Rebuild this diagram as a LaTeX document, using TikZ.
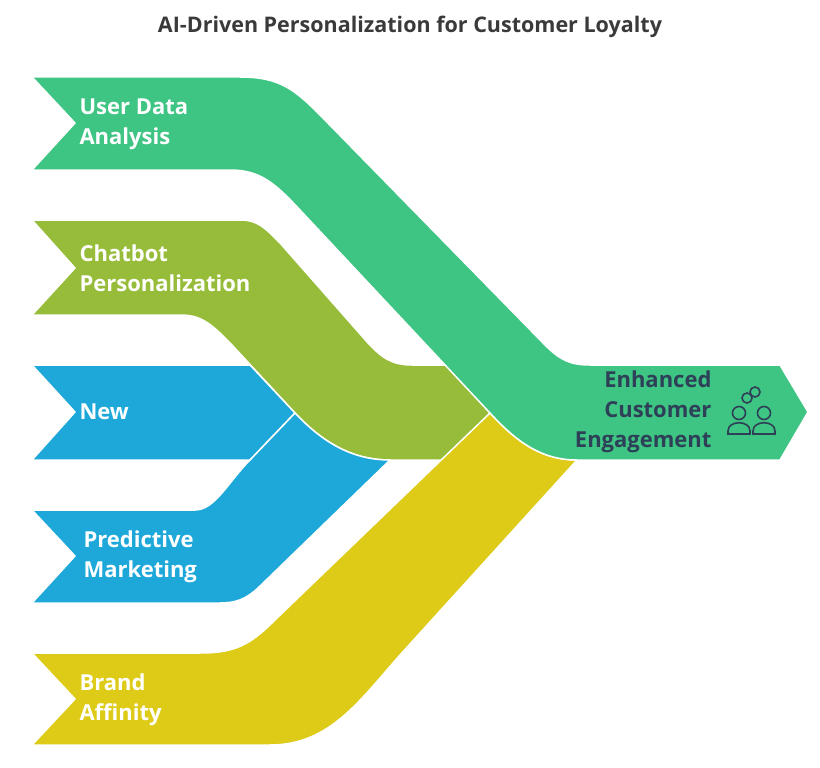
\documentclass[tikz,border=0pt]{standalone}
\usepackage{fontspec}
\setmainfont{Open Sans}[BoldFont={Open Sans Bold}]
\begin{document}
\begin{tikzpicture}[x=1pt,y=-1pt,
  band/.style={draw=white,line width=1.5pt,line join=round},
  lbl/.style={text=white,font=\bfseries\fontsize{22}{30}\selectfont,align=left,anchor=west},
  ic/.style={draw=icon,line width=1.6pt}]
\definecolor{gmain}{HTML}{3EC483}
\definecolor{gchat}{HTML}{96BC3A}
\definecolor{blu}{HTML}{1EA8DA}
\definecolor{yel}{HTML}{DDCB17}
\definecolor{icon}{HTML}{2E4057}
\useasboundingbox (0,0) rectangle (820,768);
\node (title) at (410,27) {\bfseries\fontsize{21.5}{24}\selectfont\color[HTML]{3A3A3A}AI-Driven Personalization for Customer Loyalty};
% chatbot band
\fill[gchat,band] (32,220)--(240,220) .. controls (258,220) and (265,228) .. (280,243) -- (368,343) .. controls (382,358) and (392,365) .. (412,365) -- (447,365) -- (490,413) -- (447,460) -- (390,460) .. controls (355,460) and (325,445) .. (295,413) -- (232,345) .. controls (210,322) and (200,315) .. (180,315) -- (32,315) -- (75,268) -- cycle;
% blue New
\fill[blu,band] (32,365)--(250,365)--(295,413)--(250,460)--(32,460)--(75,412)--cycle;
% blue predictive
\fill[blu,band] (32,510)--(195,510) .. controls (215,510) and (228,482) .. (250,460) -- (295,413) .. controls (325,445) and (355,460) .. (390,460) -- (258,588) .. controls (246,599) and (236,603) .. (220,603) -- (32,603) -- (75,556) -- cycle;
% yellow
\fill[yel,band] (32,653)--(200,653) .. controls (235,653) and (250,645) .. (275,620) -- (490,413) .. controls (515,440) and (540,460) .. (577,460) -- (400,655) .. controls (360,700) and (330,745) .. (270,745) -- (32,745) -- (75,699) -- cycle;
% green main
\fill[gmain,band] (32,77)--(240,77) .. controls (280,77) and (295,90) .. (320,115) -- (545,345) .. controls (560,360) and (570,365) .. (590,365) -- (780,365) -- (808,412) -- (780,460) -- (577,460) .. controls (540,460) and (515,440) .. (490,413) -- (300,210) .. controls (275,183) and (260,170) .. (230,170) -- (32,170) -- (75,123) -- cycle;
\node[lbl] (l1) at (76,124) {User Data\\Analysis};
\node[lbl] (l2) at (76,268) {Chatbot\\Personalization};
\node[lbl] (l3) at (76,412) {New};
\node[lbl] (l4) at (80,557) {Predictive\\Marketing};
\node[lbl] (l5) at (76,700) {Brand\\Affinity};
\node[text=icon,font=\bfseries\fontsize{22}{30}\selectfont,align=right,anchor=east] (out) at (715,412) {Enhanced\\Customer\\Engagement};
% icon
\draw[ic] (747,398) circle (5);
\draw[ic] (755,392) circle (5);
\draw[ic] (739,413) circle (6.5);
\draw[ic] (764,413) circle (6.5);
\draw[ic] (728,434) -- (728,431) .. controls (728,420) and (750,420) .. (750,431) -- (750,434) -- cycle;
\draw[ic] (753,434) -- (753,431) .. controls (753,420) and (775,420) .. (775,431) -- (775,434) -- cycle;
\end{tikzpicture}
\end{document}
